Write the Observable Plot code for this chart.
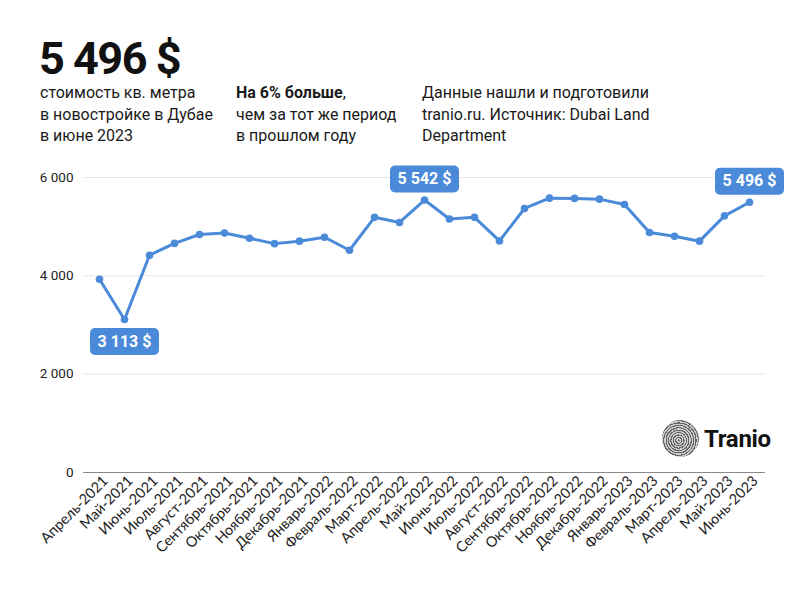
<!DOCTYPE html>
<html>
<head>
<meta charset="utf-8">
<script src="https://cdn.jsdelivr.net/npm/d3@7"></script>
<script src="https://cdn.jsdelivr.net/npm/@observablehq/plot@0.6"></script>
<style>
  html, body { margin: 0; padding: 0; background: #fff; }
  #page { position: relative; width: 800px; height: 600px; overflow: hidden; font-family: Roboto, "Noto Sans", sans-serif; color: #111; }
  #big { position: absolute; left: 39px; top: 39px; font-size: 45px; font-weight: 700; line-height: 40px; letter-spacing: -1.5px; }
  .col { position: absolute; top: 82px; font-size: 16px; line-height: 21.5px; color: #1a1a1a; }
  #chart { position: absolute; left: 0; top: 150px; }
  #logo { position: absolute; left: 662px; top: 420px; display: flex; align-items: center; }
  #logo .mark { width: 37px; height: 37px; border-radius: 50%;
    background: repeating-radial-gradient(circle at 45% 55%, #666 0 1.1px, #ccc 1.1px 2.4px); }
  #logo .name { font-size: 24px; font-weight: 700; margin-left: 5px; color: #111; letter-spacing: -0.3px; }
</style>
</head>
<body>
<div id="page">
  <div id="big">5 496 $</div>
  <div class="col" style="left:40px">стоимость кв. метра<br>в новостройке в Дубае<br>в июне 2023</div>
  <div class="col" style="left:236px"><b>На 6% больше</b>,<br>чем за тот же период<br>в прошлом году</div>
  <div class="col" style="left:422px">Данные нашли и подготовили<br>tranio.ru. Источник: Dubai Land<br>Department</div>
  <div id="chart"></div>
  <div id="logo"><div class="mark"></div><div class="name">Tranio</div></div>
</div>
<script>
const months = ["Апрель-2021","Май-2021","Июнь-2021","Июль-2021","Август-2021","Сентябрь-2021","Октябрь-2021","Ноябрь-2021","Декабрь-2021","Январь-2022","Февраль-2022","Март-2022","Апрель-2022","Май-2022","Июнь-2022","Июль-2022","Август-2022","Сентябрь-2022","Октябрь-2022","Ноябрь-2022","Декабрь-2022","Январь-2023","Февраль-2023","Март-2023","Апрель-2023","Май-2023","Июнь-2023"];
const prices = [3930,3113,4420,4660,4840,4870,4765,4655,4705,4785,4520,5190,5085,5542,5155,5190,4710,5370,5580,5575,5560,5450,4880,4805,4705,5220,5496];
const yTicks = [0,2000,4000,6000];
const calloutBelow = ["Май-2021"];
const calloutAbove = ["Май-2022","Июнь-2023"];

const data = months.map((m, i) => ({month: m, value: prices[i]}));
const fmt = v => d3.format(",")(v).replace(/,/g, " ");
const below = data.filter(d => calloutBelow.includes(d.month));
const above = data.filter(d => calloutAbove.includes(d.month));

const boxSymbol = {
  draw(ctx) {
    const w = 34.5, h = 13.5, r = 5;
    ctx.moveTo(-w + r, -h);
    ctx.lineTo(w - r, -h);
    ctx.arcTo(w, -h, w, -h + r, r);
    ctx.lineTo(w, h - r);
    ctx.arcTo(w, h, w - r, h, r);
    ctx.lineTo(-w + r, h);
    ctx.arcTo(-w, h, -w, h - r, r);
    ctx.lineTo(-w, -h + r);
    ctx.arcTo(-w, -h, -w + r, -h, r);
    ctx.closePath();
  }
};

const blue = "#4a8ad9";
const labelFont = "Roboto, sans-serif";

const chart = Plot.plot({
  width: 800,
  height: 450,
  marginLeft: 83,
  marginRight: 35,
  marginTop: 27,
  marginBottom: 128,
  style: {fontFamily: "Lato, 'Open Sans', sans-serif", fontSize: "13px", color: "#222", background: "transparent", overflow: "visible"},
  x: {type: "point", domain: months, padding: 0.5, label: null},
  y: {domain: [0, 6000], label: null},
  marks: [
    Plot.gridY(yTicks, {stroke: "#e5e5e5", strokeOpacity: 1, strokeWidth: 1}),
    Plot.ruleY([0], {stroke: "#8a8a8a", strokeWidth: 1}),
    Plot.axisY(yTicks, {tickSize: 0, tickPadding: 10, tickFormat: fmt, fontFamily: labelFont, fontSize: 13.5, fill: "#222", label: null}),
    Plot.axisX({tickSize: 0, tickRotate: -45, tickPadding: 6, fontFamily: "Lato, sans-serif", fontSize: 14.5, fill: "#222", label: null, dx: 6}),
    Plot.line(data, {x: "month", y: "value", stroke: blue, strokeWidth: 3, strokeLinejoin: "round"}),
    Plot.dot(data, {x: "month", y: "value", r: 3.8, fill: blue}),
    Plot.dot(below, {x: "month", y: "value", symbol: boxSymbol, fill: blue, dy: 22}),
    Plot.dot(above, {x: "month", y: "value", symbol: boxSymbol, fill: blue, dy: -21}),
    Plot.text(below, {x: "month", y: "value", text: d => fmt(d.value) + " $", fill: "white", fontWeight: "bold", fontSize: 16, fontFamily: labelFont, dy: 22}),
    Plot.text(above, {x: "month", y: "value", text: d => fmt(d.value) + " $", fill: "white", fontWeight: "bold", fontSize: 16, fontFamily: labelFont, dy: -21})
  ]
});
document.getElementById("chart").appendChild(chart);
</script>
</body>
</html>
